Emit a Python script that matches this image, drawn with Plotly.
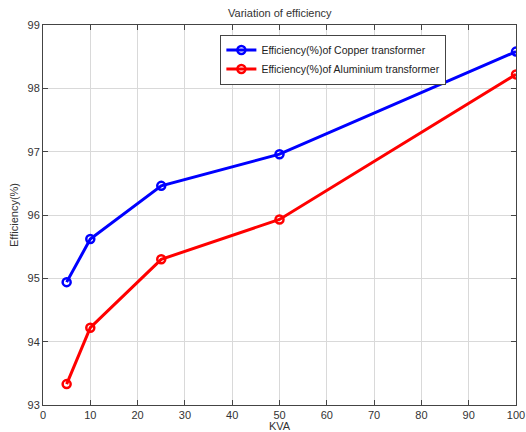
import plotly.graph_objects as go

# Transformer rating and measured efficiencies
kva = [5, 10, 25, 50, 100]
eff_copper = [94.94, 95.62, 96.46, 96.96, 98.58]
eff_aluminium = [93.33, 94.22, 95.30, 95.93, 98.22]

x_ticks = [0, 10, 20, 30, 40, 50, 60, 70, 80, 90, 100]
y_ticks = [93, 94, 95, 96, 97, 98, 99]

font_family = "Liberation Sans, Arial, sans-serif"

fig = go.Figure()
fig.add_trace(go.Scatter(
    x=kva, y=eff_copper, mode="lines+markers",
    name="Efficiency(%)of Copper transformer",
    line=dict(color="#0000ff", width=3),
    marker=dict(symbol="circle-open", size=8, color="#0000ff", line=dict(width=2.5)),
))
fig.add_trace(go.Scatter(
    x=kva, y=eff_aluminium, mode="lines+markers",
    name="Efficiency(%)of Aluminium transformer",
    line=dict(color="#ff0000", width=3),
    marker=dict(symbol="circle-open", size=8, color="#ff0000", line=dict(width=2.5)),
))

axis_common = dict(
    showline=True, linecolor="#444444", linewidth=1, mirror="ticks",
    ticks="inside", ticklen=5, tickcolor="#444444",
    showgrid=True, gridcolor="#d9d9d9", gridwidth=1,
    zeroline=False, automargin=False,
    tickfont=dict(size=11, color="#333333", family=font_family),
)

fig.update_layout(
    width=526, height=432,
    margin=dict(l=43, r=10, t=25, b=27),
    paper_bgcolor="white", plot_bgcolor="white",
    font=dict(family=font_family, color="#333333", size=11),
    title=dict(text="Variation of efficiency", x=0.532, xanchor="center",
               y=0.97, yanchor="middle", font=dict(size=11, color="#333333")),
    xaxis=dict(range=[0, 100], tickvals=x_ticks, ticklabeloverflow="allow",
               title=dict(text="KVA", standoff=2, font=dict(size=11)), **axis_common),
    yaxis=dict(range=[93, 99], tickvals=y_ticks, ticklabeloverflow="allow",
               title=dict(text="Efficiency(%)", standoff=6, font=dict(size=11)), **axis_common),
    legend=dict(x=0.375, y=0.975, xanchor="left", yanchor="top",
                bgcolor="white", bordercolor="#444444", borderwidth=1,
                font=dict(size=10.5, color="#222222"), tracegroupgap=0,
                itemwidth=30),
    showlegend=True,
)

fig.write_html("out.html")
